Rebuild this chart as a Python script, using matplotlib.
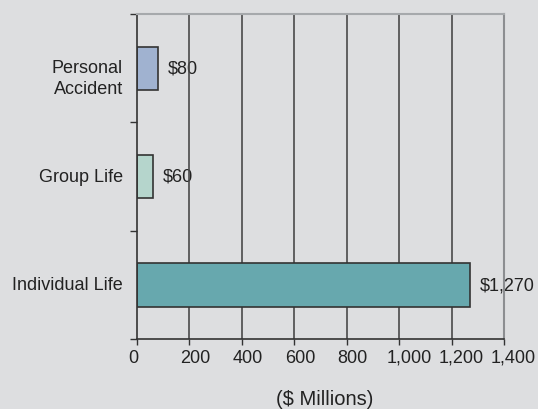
import matplotlib
matplotlib.use("Agg")
import matplotlib.pyplot as plt
import matplotlib.transforms as mtransforms
from matplotlib.ticker import FuncFormatter, FixedLocator

plt.rcParams['font.family'] = ['Liberation Sans', 'DejaVu Sans']

categories = ["Personal\nAccident", "Group Life", "Individual Life"]
values = [80, 60, 1270]
value_labels = ["$80", "$60", "$1,270"]
bar_colors = ["#A0B2D0", "#B5D5CC", "#67A8AE"]
x_ticks = [0, 200, 400, 600, 800, 1000, 1200, 1400]
x_label = "($ Millions)"

bg = "#DDDEE0"
fig = plt.figure(figsize=(5.38, 4.10), dpi=100, facecolor=bg)
ax = fig.add_axes([137 / 538, 1 - 340 / 410, 367 / 538, 325 / 410], facecolor=bg)

pos = list(range(len(categories)))
ax.barh(pos, values, height=0.4, color=bar_colors, edgecolor="#333333",
        linewidth=1.2, zorder=3)

ax.set_xlim(0, 1400)
ax.set_ylim(len(categories) - 0.5, -0.5)

# vertical gridlines, drawn above the value labels but beneath the bars
for t in x_ticks[1:-1]:
    ax.axvline(t, color="#4a4a4a", linewidth=1.2, zorder=2)

for p, v, lab in zip(pos, values, value_labels):
    ax.annotate(lab, xy=(v, p), xytext=(7, 0), textcoords="offset points",
                ha="left", va="center", fontsize=13, color="#222222", zorder=1)

# category labels
offsets = [-7, 0, 0]
for p, cat, off in zip(pos, categories, offsets):
    ax.annotate(cat, xy=(0, p), xycoords=("axes fraction", "data"),
                xytext=(-10, off), textcoords="offset points",
                ha="right", va="center", multialignment="right",
                fontsize=13, color="#222222", linespacing=1.3)

ax.set_xticks(x_ticks)
ax.xaxis.set_major_formatter(FuncFormatter(lambda x, _: f"{int(x):,}"))
ax.tick_params(axis="x", length=4, width=1, color="#333333", pad=3,
               labelsize=13, labelcolor="#222222")

# tick labels start a little left of their tick
fig.canvas.draw()
for lbl in ax.get_xticklabels():
    shift = -13 if "," in lbl.get_text() else -9
    lbl.set_horizontalalignment("left")
    lbl.set_transform(lbl.get_transform() +
                      mtransforms.ScaledTranslation(shift / 100, 0, fig.dpi_scale_trans))

ax.set_yticks([])
ax.yaxis.set_minor_locator(FixedLocator([-0.5, 0.5, 1.5, 2.5]))
ax.tick_params(axis="y", which="minor", length=5, width=1, color="#333333",
               direction="out")

ax.spines["left"].set_color("#333333")
ax.spines["left"].set_linewidth(1.2)
ax.spines["bottom"].set_color("#333333")
ax.spines["bottom"].set_linewidth(1.2)
ax.spines["top"].set_color("#A6A9AC")
ax.spines["top"].set_linewidth(1.5)
ax.spines["right"].set_color("#8C8E91")
ax.spines["right"].set_linewidth(1.5)
for s in ax.spines.values():
    s.set_zorder(4)

fig.text(325 / 538, 1 - 400 / 410, x_label, ha="center", va="center",
         fontsize=14.5, color="#222222")

fig.savefig("out.png", dpi=100, facecolor=bg)
